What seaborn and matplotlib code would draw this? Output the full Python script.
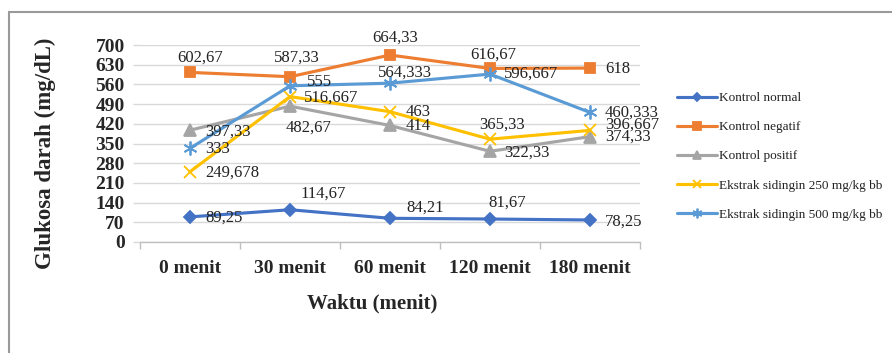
import matplotlib
matplotlib.use("Agg")
import matplotlib.pyplot as plt
from matplotlib.patches import Rectangle
from matplotlib.ticker import FixedLocator
import seaborn as sns
import pandas as pd

# ---- data ----
categories = ["0 menit", "30 menit", "60 menit", "120 menit", "180 menit"]
series_names = ["Kontrol normal", "Kontrol negatif", "Kontrol positif",
                "Ekstrak sidingin 250 mg/kg bb", "Ekstrak sidingin 500 mg/kg bb"]
kontrol_normal = [89.25, 114.67, 84.21, 81.67, 78.25]
kontrol_negatif = [602.67, 587.33, 664.33, 616.67, 618]
kontrol_positif = [397.33, 482.67, 414, 322.33, 374.33]
ekstrak_250 = [249.678, 516.667, 463, 365.33, 396.667]
ekstrak_500 = [333, 555, 564.333, 596.667, 460.333]
y_ticks = list(range(0, 701, 70))

all_values = [kontrol_normal, kontrol_negatif, kontrol_positif, ekstrak_250, ekstrak_500]

rows = []
for name, vals in zip(series_names, all_values):
    for i, (c, v) in enumerate(zip(categories, vals)):
        rows.append({"pos": i, "Waktu": c, "Glukosa": v, "Seri": name})
df = pd.DataFrame(rows)

# ---- style ----
colors = ["#4472C4", "#ED7D31", "#A5A5A5", "#FFC000", "#5B9BD5"]
markers = ["D", "s", "^", "x", (6, 2, 0)]
msizes = [6, 7.5, 8, 9, 10]

# data-label placement: (dx px, dy px, ha)
label_pos = [
    [(15, -1, "left"), (33, 16, "center"), (35, 11, "center"), (17, 16, "center"), (15, -2, "left")],
    [(10, 15, "center"), (7, 19, "center"), (5, 17, "center"), (3, 14, "center"), (15, -1, "left")],
    [(15, -1, "left"), (19, -21, "center"), (16, -1, "left"), (14, -1, "left"), (15, 0, "left")],
    [(15, -1, "left"), (14, -1, "left"), (16, 0, "left"), (12, 15, "center"), (15, 6, "left")],
    [(15, -1, "left"), (17, 4, "left"), (15, 11, "center"), (14, 0, "left"), (15, 0, "left")],
]

sns.set_theme(style="white")
plt.rcParams["font.family"] = ["Liberation Serif", "DejaVu Serif"]

W, H = 892, 353
fig = plt.figure(figsize=(W / 100, H / 100), dpi=100)
ax = fig.add_axes([140 / W, 1 - 242 / H, 500 / W, 197 / H])

sns.lineplot(data=df, x="pos", y="Glukosa", hue="Seri", hue_order=series_names,
             palette=colors, ax=ax, legend=False, linewidth=2.25, sort=False)

for line, col, mk, ms in zip(ax.lines, colors, markers, msizes):
    line.set_marker(mk)
    line.set_markersize(ms)
    line.set_markerfacecolor(col)
    line.set_markeredgecolor(col)
    line.set_markeredgewidth(1.3)
    line.set_solid_capstyle("round")

def fmt(v):
    s = str(v)
    if s.endswith(".0"):
        s = s[:-2]
    return s.replace(".", ",")

for vals, lp in zip(all_values, label_pos):
    for i, v in enumerate(vals):
        dx, dy, ha = lp[i]
        ax.annotate(fmt(v), (i, v), xytext=(dx, dy), textcoords="offset pixels",
                    ha=ha, va="center", fontsize=12, color="#222222")

ax.set_xlim(-0.5, len(categories) - 0.5)
ax.set_ylim(0, 700)
ax.set_yticks(y_ticks)
ax.set_xticks(range(len(categories)))
ax.set_xticklabels(categories, fontsize=14, fontweight="bold")
ax.xaxis.set_minor_locator(FixedLocator([i - 0.5 for i in range(len(categories) + 1)]))
ax.tick_params(axis="x", which="major", length=0, pad=13)
ax.tick_params(axis="x", which="minor", length=5, width=1, color="#bfbfbf", direction="out", bottom=True)
ax.tick_params(axis="y", length=5, width=1, color="#d9d9d9", pad=6, left=True, labelsize=14)
for t in ax.get_yticklabels():
    t.set_fontweight("bold")

ax.grid(axis="y", color="#d9d9d9", linewidth=1)
ax.grid(axis="x", visible=False)
for s in ["top", "right", "left"]:
    ax.spines[s].set_visible(False)
ax.spines["bottom"].set_color("#bfbfbf")
ax.spines["bottom"].set_linewidth(1)
ax.set_axisbelow(True)

ax.set_xlabel("Waktu (menit)", fontsize=15, fontweight="bold")
ax.xaxis.label.set_va("center")
ax.xaxis.set_label_coords(0.464, -0.31)
ax.set_ylabel("Glukosa darah (mg/dL)", fontsize=16.5, fontweight="bold")
ax.yaxis.label.set_va("center")
ax.yaxis.set_label_coords(-0.19, 0.452)

leg = ax.legend(ax.lines, series_names, loc="upper left",
                bbox_to_anchor=(677 / W, 1 - 92 / H), bbox_transform=fig.transFigure,
                frameon=False, fontsize=9.5, handlelength=3.0, handletextpad=0.2,
                borderpad=0, borderaxespad=0, labelspacing=1.28, markerscale=0.7)
for t in leg.get_texts():
    t.set_color("#222222")

fig.patches.append(Rectangle((9 / W, -0.1), 1.2, 1 - 12 / H + 0.1, transform=fig.transFigure,
                             fill=False, edgecolor="#999999", linewidth=1.5))

fig.savefig("out.png", dpi=100, facecolor="white")
